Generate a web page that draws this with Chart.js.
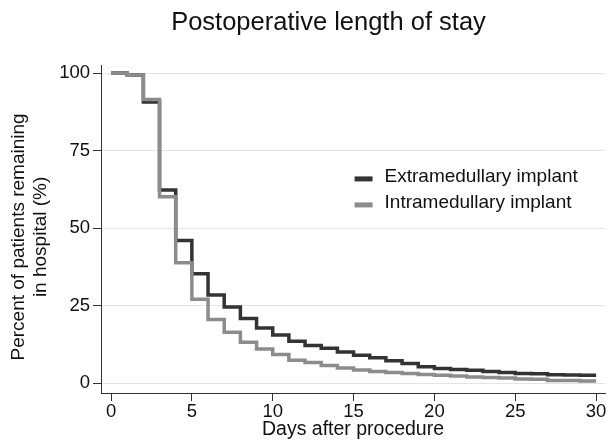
<!DOCTYPE html>
<html>
<head>
<meta charset="utf-8">
<script src="https://cdn.jsdelivr.net/npm/chart.js@4.4.1/dist/chart.umd.min.js"></script>
<style>
  html, body { margin: 0; padding: 0; background: #fff; }
  .wrap { position: relative; width: 611px; height: 441px; }
  .title {
    position: absolute; left: 0; top: 6px; width: 565px; padding-left: 46px;
    text-align: center; font: 25.5px "Liberation Sans", Arial, sans-serif;
    line-height: 30px; color: #111;
  }
</style>
</head>
<body>
<div class="wrap">
  <div class="title">Postoperative length of stay</div>
  <canvas class="los-chart" width="611" height="441"></canvas>
</div>
<script>
const days = [0, 1, 2, 3, 4, 5, 6, 7, 8, 9, 10, 11, 12, 13, 14, 15, 16, 17, 18, 19, 20, 21, 22, 23, 24, 25, 26, 27, 28, 29, 30]
const extramedullary = [100, 99.4, 90.7, 62.3, 46.0, 35.3, 28.4, 24.5, 20.8, 17.8, 15.5, 13.5, 12.1, 11.2, 10.0, 9.0, 8.2, 7.2, 6.3, 5.3, 4.7, 4.4, 4.1, 3.7, 3.4, 3.1, 3.0, 2.7, 2.6, 2.5, 2.5]
const intramedullary = [100, 99.4, 91.5, 60.1, 38.8, 27.0, 20.5, 16.4, 13.2, 11.0, 9.2, 7.4, 6.6, 5.7, 4.9, 4.2, 3.7, 3.4, 3.1, 2.8, 2.5, 2.3, 2.0, 1.8, 1.6, 1.3, 1.2, 0.8, 0.8, 0.7, 0.7]
const seriesNames = ['Extramedullary implant', 'Intramedullary implant']
const xTicks = [0, 5, 10, 15, 20, 25, 30]
const yTicks = [0, 25, 50, 75, 100]

const FONT = '"Liberation Sans", Arial, sans-serif'
const ctx = document.querySelector('.los-chart')

const toPoints = vals => days.map((d, i) => ({ x: d, y: vals[i] }))

// legend drawn inside the plot, anchored to the scales
const insideLegend = {
    id: 'insideLegend',
    afterDraw(chart) {
        const c = chart.ctx
        const x0 = chart.scales.x.getPixelForValue(15)
        const y0 = chart.scales.y.getPixelForValue(66.5)
        c.save()
        c.font = '19px ' + FONT
        c.textBaseline = 'middle'
        c.textAlign = 'left'
        chart.data.datasets.forEach((ds, i) => {
            const y = y0 + i * 26
            c.strokeStyle = ds.borderColor
            c.lineWidth = 5
            c.beginPath()
            c.moveTo(x0 + 1, y + 2)
            c.lineTo(x0 + 19, y + 2)
            c.stroke()
            c.fillStyle = '#111'
            c.fillText(ds.label, x0 + 31, y)
        })
        c.restore()
    }
}

new Chart(ctx, {
    type: 'line',
    data: {
        datasets: [
            {
                label: seriesNames[0],
                data: toPoints(extramedullary),
                borderColor: '#333333',
                borderWidth: 3.5,
                stepped: 'before',
                pointRadius: 0,
                borderCapStyle: 'butt',
                borderJoinStyle: 'miter',
                order: 2
            },
            {
                label: seriesNames[1],
                data: toPoints(intramedullary),
                borderColor: '#8c8c8c',
                borderWidth: 3.5,
                stepped: 'before',
                pointRadius: 0,
                borderCapStyle: 'butt',
                borderJoinStyle: 'miter',
                order: 1
            }
        ]
    },
    options: {
        responsive: false,
        animation: false,
        layout: { padding: { top: 65, right: 6 } },
        scales: {
            x: {
                type: 'linear',
                min: -0.62,
                max: 30.55,
                afterBuildTicks: s => { s.ticks = xTicks.map(v => ({ value: v })) },
                afterFit: s => { s.height = 48 },
                ticks: { color: '#111', font: { family: FONT, size: 18.5 }, padding: 0, maxRotation: 0 },
                grid: { drawOnChartArea: false, tickLength: 8, tickColor: '#333' },
                border: { display: true, color: '#333', width: 1 },
                title: {
                    display: true,
                    text: 'Days after procedure',
                    color: '#111',
                    font: { family: FONT, size: 19.5 },
                    padding: { top: 0, bottom: 0 }
                }
            },
            y: {
                min: -3.2,
                max: 102.6,
                afterBuildTicks: s => { s.ticks = yTicks.map(v => ({ value: v })) },
                afterFit: s => { s.width = 101 },
                ticks: { color: '#111', font: { family: FONT, size: 18.5 }, padding: 3 },
                grid: { color: '#e4e4e4', lineWidth: 1, tickLength: 8, tickColor: '#333' },
                border: { display: true, color: '#333', width: 1 },
                title: {
                    display: true,
                    // trailing spaces nudge the rotated label down a little
                    text: ['Percent of patients remaining   ', 'in hospital (%)   '],
                    color: '#111',
                    font: { family: FONT, size: 19, lineHeight: 1.16 },
                    padding: { top: 8, bottom: 0 }
                }
            }
        },
        plugins: {
            legend: { display: false },
            tooltip: { enabled: false }
        }
    },
    plugins: [insideLegend]
})
</script>
</body>
</html>
